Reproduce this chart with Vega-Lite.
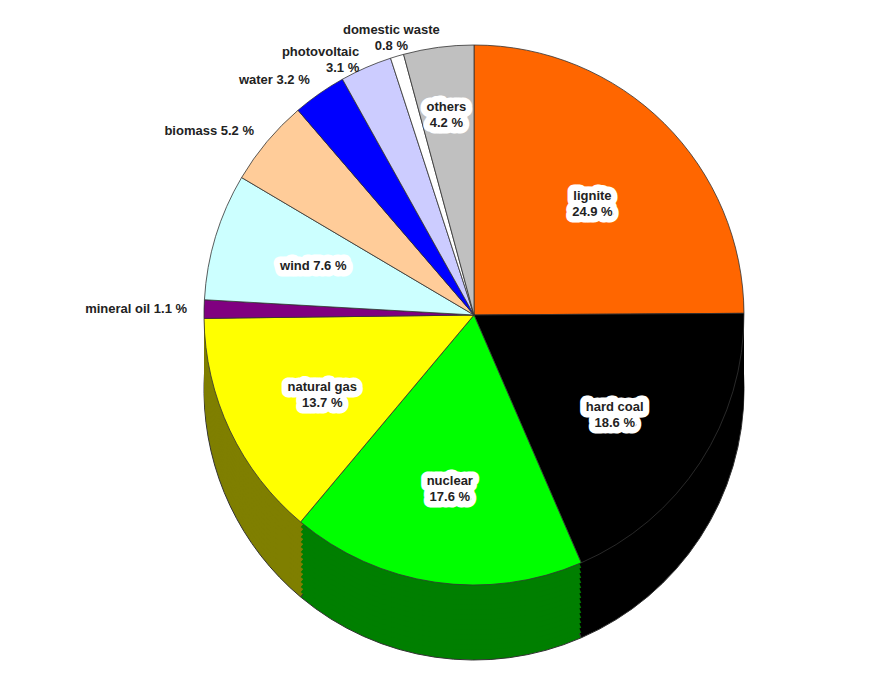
{
  "$schema": "https://vega.github.io/schema/vega-lite/v6.json",
  "width": 888,
  "height": 675,
  "autosize": {"type": "fit", "contains": "padding"},
  "padding": {"left": 60, "top": 0, "right": 0, "bottom": 35},
  "background": "white",
  "config": {
    "view": {"stroke": null},
    "text": {"font": "Liberation Sans", "fontWeight": "bold", "fontSize": 13, "lineBreak": "\n", "lineHeight": 16}
  },
  "data": {
    "values": [
      {"rank": 1, "name": "lignite", "value": 24.9, "label": "lignite\n24.9 %"},
      {"rank": 2, "name": "hard coal", "value": 18.6, "label": "hard coal\n18.6 %"},
      {"rank": 3, "name": "nuclear", "value": 17.6, "label": "nuclear\n17.6 %"},
      {"rank": 4, "name": "natural gas", "value": 13.7, "label": "natural gas\n13.7 %"},
      {"rank": 5, "name": "mineral oil", "value": 1.1, "label": "mineral oil 1.1 %"},
      {"rank": 6, "name": "wind", "value": 7.6, "label": "wind 7.6 %"},
      {"rank": 7, "name": "biomass", "value": 5.2, "label": "biomass 5.2 %"},
      {"rank": 8, "name": "water", "value": 3.2, "label": "water 3.2 %"},
      {"rank": 9, "name": "photovoltaic", "value": 3.1, "label": "photovoltaic\n3.1 %"},
      {"rank": 10, "name": "domestic waste", "value": 0.8, "label": "domestic waste\n0.8 %"},
      {"rank": 11, "name": "others", "value": 4.2, "label": "others\n4.2 %"}
    ]
  },
  "encoding": {
    "theta": {"field": "value", "type": "quantitative", "stack": true},
    "order": {"field": "rank", "type": "quantitative"}
  },
  "layer": [
    {"mark": {"type": "arc", "outerRadius": 270, "yOffset": 75, "stroke": "#333", "strokeWidth": 1}, "encoding": {"fill": {"field": "name", "type": "nominal", "legend": null, "scale": {"domain": ["lignite","hard coal","nuclear","natural gas","mineral oil","wind","biomass","water","photovoltaic","domestic waste","others"], "range": ["#993d00","#000000","#007f00","#7f7f00","#400040","#66a0a0","#a07850","#000080","#7070a0","#a0a0a0","#707070"]}}}},
    {"mark": {"type": "arc", "outerRadius": 270, "yOffset": 70}, "encoding": {"fill": {"field": "name", "type": "nominal", "legend": null}}},
    {"mark": {"type": "arc", "outerRadius": 270, "yOffset": 65}, "encoding": {"fill": {"field": "name", "type": "nominal", "legend": null}}},
    {"mark": {"type": "arc", "outerRadius": 270, "yOffset": 60}, "encoding": {"fill": {"field": "name", "type": "nominal", "legend": null}}},
    {"mark": {"type": "arc", "outerRadius": 270, "yOffset": 55}, "encoding": {"fill": {"field": "name", "type": "nominal", "legend": null}}},
    {"mark": {"type": "arc", "outerRadius": 270, "yOffset": 50}, "encoding": {"fill": {"field": "name", "type": "nominal", "legend": null}}},
    {"mark": {"type": "arc", "outerRadius": 270, "yOffset": 45}, "encoding": {"fill": {"field": "name", "type": "nominal", "legend": null}}},
    {"mark": {"type": "arc", "outerRadius": 270, "yOffset": 40}, "encoding": {"fill": {"field": "name", "type": "nominal", "legend": null}}},
    {"mark": {"type": "arc", "outerRadius": 270, "yOffset": 35}, "encoding": {"fill": {"field": "name", "type": "nominal", "legend": null}}},
    {"mark": {"type": "arc", "outerRadius": 270, "yOffset": 30}, "encoding": {"fill": {"field": "name", "type": "nominal", "legend": null}}},
    {"mark": {"type": "arc", "outerRadius": 270, "yOffset": 25}, "encoding": {"fill": {"field": "name", "type": "nominal", "legend": null}}},
    {"mark": {"type": "arc", "outerRadius": 270, "yOffset": 20}, "encoding": {"fill": {"field": "name", "type": "nominal", "legend": null}}},
    {"mark": {"type": "arc", "outerRadius": 270, "yOffset": 15}, "encoding": {"fill": {"field": "name", "type": "nominal", "legend": null}}},
    {"mark": {"type": "arc", "outerRadius": 270, "yOffset": 10}, "encoding": {"fill": {"field": "name", "type": "nominal", "legend": null}}},
    {"mark": {"type": "arc", "outerRadius": 270, "yOffset": 5}, "encoding": {"fill": {"field": "name", "type": "nominal", "legend": null}}},
    {
      "mark": {"type": "arc", "outerRadius": 270, "stroke": "#333", "strokeWidth": 0.8},
      "encoding": {
        "color": {"field": "name", "type": "nominal", "legend": null, "scale": {"domain": ["lignite","hard coal","nuclear","natural gas","mineral oil","wind","biomass","water","photovoltaic","domestic waste","others"], "range": ["#ff6600","#000000","#00ff00","#ffff00","#800080","#ccffff","#ffcc99","#0000ff","#ccccff","#ffffff","#c0c0c0"]}}
      }
    },
    {
      "mark": {"type": "text", "radius": 168, "fill": "white", "stroke": "white", "strokeWidth": 13, "strokeJoin": "round"},
      "encoding": {"text": {"condition": {"test": "indexof(['lignite','hard coal','nuclear','natural gas','wind'], datum.name) >= 0", "field": "label", "type": "nominal"}, "value": ""}}
    },
    {
      "mark": {"type": "text", "radius": 168, "fill": "#222"},
      "encoding": {"text": {"condition": {"test": "indexof(['lignite','hard coal','nuclear','natural gas','wind'], datum.name) >= 0", "field": "label", "type": "nominal"}, "value": ""}}
    },
    {
      "mark": {"type": "text", "radius": 210, "fill": "white", "stroke": "white", "strokeWidth": 13, "strokeJoin": "round"},
      "encoding": {"text": {"condition": {"test": "datum.name === 'others'", "field": "label", "type": "nominal"}, "value": ""}}
    },
    {
      "mark": {"type": "text", "radius": 210, "fill": "#222"},
      "encoding": {"text": {"condition": {"test": "datum.name === 'others'", "field": "label", "type": "nominal"}, "value": ""}}
    },
    {
      "mark": {"type": "text", "radius": 287, "align": "right", "baseline": "middle", "fill": "#222"},
      "encoding": {"text": {"condition": {"test": "indexof(['mineral oil','biomass','water','photovoltaic'], datum.name) >= 0", "field": "label", "type": "nominal"}, "value": ""}}
    },
    {
      "mark": {"type": "text", "radius": 290, "align": "center", "baseline": "bottom", "fill": "#222"},
      "encoding": {"text": {"condition": {"test": "datum.name === 'domestic waste'", "field": "label", "type": "nominal"}, "value": ""}}
    }
  ]
}
